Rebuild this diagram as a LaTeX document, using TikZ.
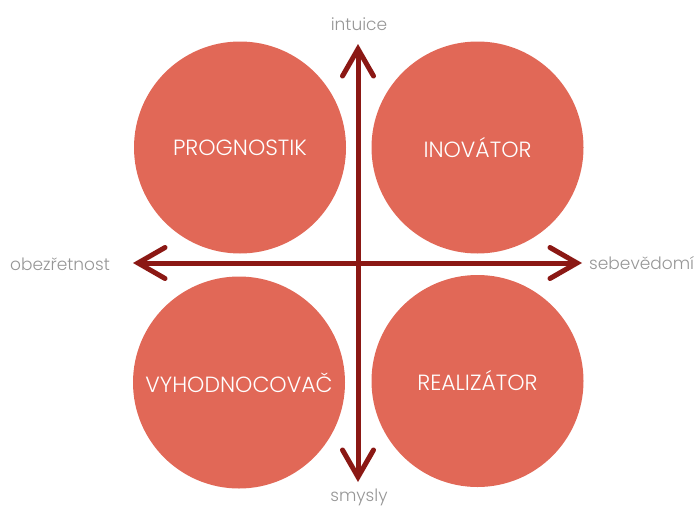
\documentclass[tikz,border=0pt]{standalone}
\usepackage{fontspec}
\setmainfont{Poppins}[UprightFont=* Light]
\usetikzlibrary{arrows.meta}
\definecolor{petal}{RGB}{225,104,87}
\definecolor{axisred}{RGB}{139,24,20}
\definecolor{labelgrey}{RGB}{150,150,150}
\tikzset{
  quadrant/.style={circle, fill=petal, minimum size=212pt, inner sep=0pt,
    text=white, font=\fontsize{22}{22}\selectfont},
  barb/.tip={Straight Barb[length=27pt,width=31pt,line cap=round]},
  axisline/.style={draw=axisred, line width=5pt, barb-barb},
  pole/.style={text=labelgrey, font=\fontsize{17}{17}\selectfont, inner sep=0pt}
}
\begin{document}
\begin{tikzpicture}[x=1pt,y=-1pt]
  \useasboundingbox (0,0) rectangle (698,506);
  % four profiles
  \node[quadrant] (prog) at (240,147.5) {PROGNOSTIK};
  \node[quadrant] (inov) at (477.5,147.5) {INOVÁTOR};
  \node[quadrant] (vyh)  at (239,382.5) {VYHODNOCOVAČ};
  \node[quadrant] (real) at (477.5,381) {REALIZÁTOR};
  % axis end points
  \coordinate (top) at (358,44);
  \coordinate (bottom) at (358,482);
  \coordinate (left) at (133,263);
  \coordinate (right) at (582,263);
  \draw[axisline] (bottom) -- (top);
  \draw[axisline] (left) -- (right);
  % pole labels
  \node[pole] (intuice) at (359,24) {intuice};
  \node[pole] (smysly) at (359,497) {smysly};
  \node[pole, anchor=west] (obez) at (10,264) {obezřetnost};
  \node[pole, anchor=west] (sebe) at (589,263) {sebevědomí};
\end{tikzpicture}
\end{document}
